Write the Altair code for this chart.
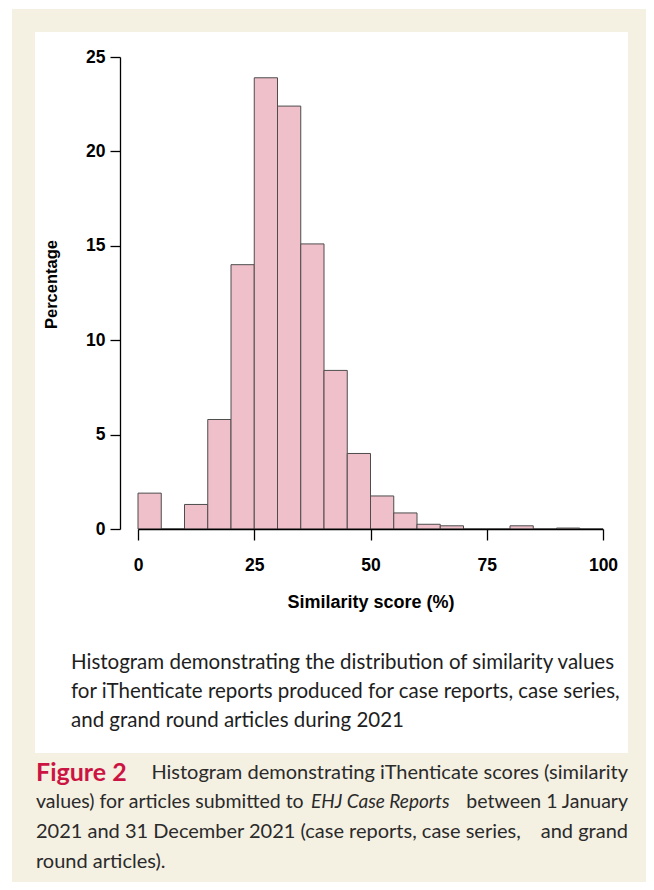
import altair as alt
import pandas as pd

# ---- data ----
bin_start = [0, 5, 10, 15, 20, 25, 30, 35, 40, 45, 50, 55, 60, 65, 70, 75, 80, 85, 90, 95]
bin_end = [5, 10, 15, 20, 25, 30, 35, 40, 45, 50, 55, 60, 65, 70, 75, 80, 85, 90, 95, 100]
percent = [1.9, 0.0, 1.3, 5.8, 14.0, 23.9, 22.4, 15.1, 8.4, 4.0,
           1.75, 0.85, 0.25, 0.17, 0.0, 0.0, 0.17, 0.0, 0.05, 0.0]
x_ticks = [0, 25, 50, 75, 100]
y_ticks = [0, 5, 10, 15, 20, 25]

inner_caption = [
    "Histogram demonstrating the distribution of similarity values",
    "for iThenticate reports produced for case reports, case series,",
    "and grand round articles during 2021",
]

df = pd.DataFrame({"start": bin_start, "end": bin_end, "pct": percent})
one = pd.DataFrame({"k": [0]})

W, H = 465, 472
CREAM = "#f4f0e2"
AX_FONT = "Liberation Sans"
CAP_FONT = "Lato"

cream = alt.Chart(one).mark_rect(color=CREAM).encode(
    x=alt.value(-126), x2=alt.value(508), y=alt.value(-48), y2=alt.value(825))
panel = alt.Chart(one).mark_rect(color="white").encode(
    x=alt.value(-103), x2=alt.value(490), y=alt.value(-25), y2=alt.value(696))

common_axis = dict(
    zindex=1, grid=False, domainColor="black", domainWidth=1.3,
    tickColor="black", tickWidth=1.3, labelFont=AX_FONT,
    labelFontWeight="bold", labelColor="black", titleFont=AX_FONT,
    titleFontWeight="bold", titleColor="black",
    labelFlush=False, labelOverlap=False,
)

bars = alt.Chart(df).mark_rect(fill="#efbfca", stroke="#4d4d4d", strokeWidth=1).encode(
    x=alt.X("start:Q", scale=alt.Scale(domain=[0, 100], nice=False, zero=False),
            axis=alt.Axis(values=x_ticks, title="Similarity score (%)", tickSize=11,
                          labelPadding=16, titlePadding=20, labelFontSize=17.5,
                          titleFontSize=18, **common_axis)),
    x2="end:Q",
    y=alt.Y("pct:Q", scale=alt.Scale(domain=[0, 25], nice=False),
            axis=alt.Axis(values=y_ticks, title="Percentage", offset=18, tickSize=10,
                          labelPadding=5, titlePadding=26, labelFontSize=17.5,
                          titleFontSize=16.5, titleY=227, **common_axis)),
    y2=alt.datum(0),
)

layers = [cream, panel, bars]

# inner caption (inside white panel)
for i, line in enumerate(inner_caption):
    layers.append(alt.Chart(one).mark_text(
        text=line, align="left", baseline="middle", font=CAP_FONT, fontSize=20.5,
        color="#1e1e1e").encode(x=alt.value(-67), y=alt.value(606 + 29 * i)))

def seg(text, x, y, align="left", color="#2a2a2a", weight="normal", style="normal", size=20):
    return alt.Chart(one).mark_text(
        text=text, align=align, baseline="middle", font=CAP_FONT, fontSize=size,
        fontWeight=weight, fontStyle=style, color=color).encode(
        x=alt.value(x), y=alt.value(y))

layers += [
    seg("Figure 2", -102, 716, color="#cc1443", weight="bold", size=25),
    seg("Histogram demonstrating iThenticate scores (similarity", 490, 716, align="right"),
    seg("values) for articles submitted to", -102, 745, size=19.5),
    seg("EHJ Case Reports", 173, 745, style="italic", size=19),
    seg("between 1 January", 490, 745, align="right", size=19.5),
    seg("2021 and 31 December 2021 (case reports, case series,", -102, 775),
    seg("and grand", 490, 775, align="right"),
    seg("round articles).", -102, 805),
]

chart = alt.layer(*layers).properties(
    width=W, height=H, autosize="none",
    padding={"left": 130, "top": 49, "right": 43, "bottom": 353},
    background="white",
).configure_view(stroke=None)

chart.save("out.html", embed_options={"renderer": "svg", "actions": False})
